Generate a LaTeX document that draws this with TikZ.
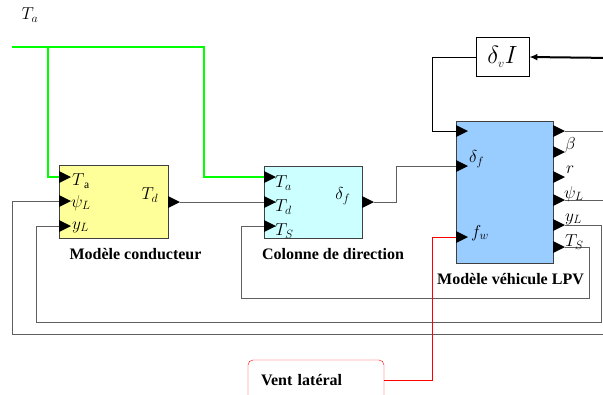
\documentclass[tikz,border=0pt]{standalone}
\usepackage{fontspec}
\setmainfont{Liberation Serif}
\definecolor{condyellow}{RGB}{255,255,153}
\definecolor{colcyan}{RGB}{204,255,255}
\definecolor{vehblue}{RGB}{153,204,255}
\definecolor{siggray}{RGB}{95,95,95}
\definecolor{torqgreen}{RGB}{0,255,0}
\definecolor{windred}{RGB}{255,0,0}
\usetikzlibrary{arrows.meta,positioning,calc}

\begin{document}
\begin{tikzpicture}[x=1pt,y=-1pt,
    blk/.style={draw=black!75,line width=0.9pt,inner sep=0pt},
    ttl/.style={font=\bfseries\fontsize{16}{16}\selectfont},
    plab/.style={font=\fontsize{16.5}{16.5}\selectfont,inner sep=0pt},
    sig/.style={siggray,line width=1pt},
    torq/.style={torqgreen,line width=2.5pt},
    wind/.style={windred,line width=1pt}]
  \useasboundingbox (0,0) rectangle (603,394);
  \clip (0,0) rectangle (603,394);

  %% blocks
  \node[blk,fill=condyellow,minimum width=109pt,minimum height=73pt] (cond) at (113.5,201.5) {};
  \node[blk,fill=colcyan,minimum width=98pt,minimum height=72pt] (col) at (313,202) {};
  \node[blk,fill=vehblue,minimum width=97pt,minimum height=142pt] (veh) at (504.5,192) {};
  \node[draw,line width=0.8pt,minimum width=53pt,minimum height=39pt,
        font=\fontsize{23}{23}\selectfont] (dvi) at (502.5,57) {$\delta_{\scriptscriptstyle v} I$};
  \node[draw=windred,rounded corners=5pt,minimum width=136pt,minimum height=40pt,
        text width=110pt,align=left,ttl] (vent) at (316,380) {Vent latéral};

  %% block titles
  \node[ttl,below=6pt of cond.south,xshift=22pt] (cond-ttl) {Modèle conducteur};
  \node[ttl,below=6pt of col.south,xshift=20pt] (col-ttl) {Colonne de direction};
  \node[ttl,below=6pt of veh.south,xshift=6pt] (veh-ttl) {Modèle véhicule LPV};

  %% ports
  \coordinate (cond-in1) at (59,177);
  \coordinate (cond-in2) at (59,201);
  \coordinate (cond-in3) at (59,226);
  \coordinate (cond-out) at (180,202);
  \coordinate (col-in1) at (264,177);
  \coordinate (col-in2) at (264,202);
  \coordinate (col-in3) at (264,226);
  \coordinate (col-out) at (374,202);
  \coordinate (veh-in1) at (456,131);
  \coordinate (veh-in2) at (456,166);
  \coordinate (veh-in3) at (456,237);
  \coordinate (veh-out1) at (565,131);
  \coordinate (veh-out2) at (565,152);
  \coordinate (veh-out3) at (565,177);
  \coordinate (veh-out4) at (565,200);
  \coordinate (veh-out5) at (565,225);
  \coordinate (veh-out6) at (565,247);
  \coordinate (ta-src) at (12,47);
  \coordinate (psi-back) at (612,334);
  \coordinate (dvi-src) at (612,58);

  %% signals
  \draw[torq] (ta-src) -- ++(192,0) |- (col-in1);
  \draw[torq] (ta-src) ++(36,0) |- (cond-in1);
  \draw[sig] (cond-out) -- (col-in2);
  \draw[sig] (col-out) -- ++(22,0) |- (veh-in2);
  \draw[sig] (veh-out6) -| ++(24,51) -| ([xshift=-23pt]col-in3) -- (col-in3);
  \draw[sig] (veh-out5) -| ++(36,97) -| ([xshift=-23pt]cond-in3) -- (cond-in3);
  \draw[sig] (veh-out4) -- ++(50,0);
  \draw[sig] (psi-back) -| ([xshift=-47pt]cond-in2) -- (cond-in2);
  \draw[sig] (veh-out1) -- ++(50,0);
  \draw[line width=1pt] (dvi.west) -| ([xshift=-24pt]veh-in1) -- (veh-in1);
  \draw[line width=2pt,-{Latex[length=8pt,width=7pt]}] (dvi-src) -- (dvi.east);
  \draw[wind] (vent.east) -| ([xshift=-24pt]veh-in3) -- (veh-in3);

  %% port triangles
  \foreach \p in {cond-in1,cond-in2,cond-in3,col-in1,col-in2,col-in3,veh-in1,veh-in2,veh-in3}
    \fill (\p) -- ++(0,6) -- ++(12,-6) -- ++(-12,-6) -- cycle;
  \foreach \p in {cond-out,col-out,veh-out1,veh-out2,veh-out3,veh-out4,veh-out5,veh-out6}
    \fill (\p) -- ++(-12,6) -- ++(0,-12) -- cycle;

  %% port labels
  \node[plab] (ta-lab) at (30,15) {$T_a$};
  \node[plab,anchor=west] (cond-lta) at (72,181) {$T_{\,\mathrm{a}}$};
  \node[plab,anchor=west] (cond-lpsi) at (71,203) {$\psi_L$};
  \node[plab,anchor=west] (cond-ly) at (72,227) {$y_L$};
  \node[plab] (cond-ltd) at (150,195) {$T_d$};
  \node[plab,anchor=west] (col-lta) at (275,183) {$T_a$};
  \node[plab,anchor=west] (col-ltd) at (275,207) {$T_d$};
  \node[plab,anchor=west] (col-lts) at (275,231) {$T_S$};
  \node[plab] (col-ldf) at (343,196) {$\delta_f$};
  \node[plab,anchor=west] (veh-ldf) at (469,159) {$\delta_f$};
  \node[plab,anchor=west] (veh-lfw) at (471,233) {$f_w$};
  \node[plab,anchor=west] (veh-lb) at (565,145) {$\beta$};
  \node[plab,anchor=west] (veh-lr) at (566,170) {$r$};
  \node[plab,anchor=west] (veh-lpsi) at (564,194) {$\psi_L$};
  \node[plab,anchor=west] (veh-ly) at (565,219) {$y_L$};
  \node[plab,anchor=west] (veh-lts) at (565,242) {$T_S$};
\end{tikzpicture}
\end{document}
